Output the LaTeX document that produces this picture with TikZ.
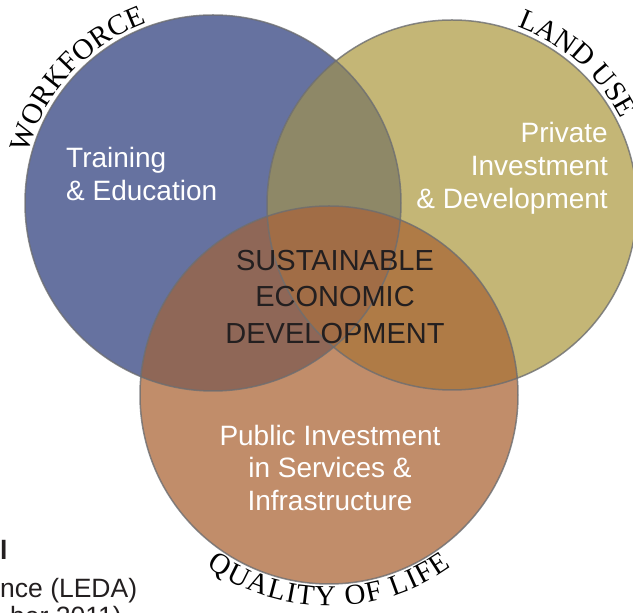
\documentclass[tikz,border=0pt]{standalone}
\usepackage{fontspec}
\setmainfont{Liberation Sans}
\newfontfamily\rimserif{Liberation Serif}
\usepackage{tikz}
\usepackage{xcolor}
\usetikzlibrary{decorations.text}
\definecolor{bluefill}{HTML}{6672A0}
\definecolor{goldfill}{HTML}{C4B676}
\definecolor{orangefill}{HTML}{C18D6A}
\definecolor{bluegold}{HTML}{8E8867}
\definecolor{blueorange}{HTML}{8F6757}
\definecolor{goldorange}{HTML}{AF7B46}
\definecolor{allthree}{HTML}{A16D46}
\definecolor{rimgrey}{HTML}{6D6E71}
\definecolor{coretext}{HTML}{231F20}
\newcommand\rimfont{\rimserif\fontsize{29}{30}\selectfont}

\begin{document}
\begin{tikzpicture}[x=1pt, y=1pt,
  label/.style={text=white, inner sep=0pt, font=\fontsize{28}{33}\selectfont},
  core/.style={text=coretext, inner sep=0pt, align=center, font=\fontsize{29}{36.5}\selectfont},
  note/.style={text=coretext, inner sep=0pt, font=\fontsize{26.5}{30}\selectfont},
  rim/.style={draw=rimgrey, line width=1.5pt, draw opacity=0.8},
  arcword/.style={decorate, decoration={text along path, text align={fit to path}, text={#1}}},
  arcleft/.style={decorate, decoration={text along path, text align=left, text={#1}}}]
  \useasboundingbox (0,0) rectangle (633,613);
  \clip (0,0) rectangle (633,613);
  \coordinate (workforce) at (213,410);
  \coordinate (landuse) at (452,408);
  \coordinate (quality) at (329,218);
  \fill[bluefill] (workforce) circle (188);
  \fill[goldfill] (landuse) circle (185);
  \fill[orangefill] (quality) circle (189);
  \begin{scope}
    \clip (workforce) circle (188);
    \fill[bluegold] (landuse) circle (185);
    \fill[blueorange] (quality) circle (189);
  \end{scope}
  \begin{scope}
    \clip (landuse) circle (185);
    \fill[goldorange] (quality) circle (189);
  \end{scope}
  \begin{scope}
    \clip (workforce) circle (188);
    \clip (landuse) circle (185);
    \fill[allthree] (quality) circle (189);
  \end{scope}
  \draw[rim] (workforce) circle (188);
  \draw[rim] (landuse) circle (185);
  \draw[rim] (quality) circle (189);
  \path[arcword={|\rimfont|WORKFORCE}] (workforce) ++(165:192) arc (165:110:192);
  \path[arcleft={|\rimfont|LAND USE}] (landuse) ++(70:190) arc (70:0:190);
  \path[arcword={|\rimfont|QUALITY OF LIFE}] (quality) ++(234.5:211) arc (234.5:305.5:211);
  \node[label, align=left, anchor=north west] (training) at (66,466) {Training\\\& Education};
  \node[label, align=right, anchor=north east] (private) at (608,491) {Private\\Investment\\\& Development};
  \node[core, anchor=north] (sustain) at (335,363) {SUSTAINABLE\\ECONOMIC\\DEVELOPMENT};
  \node[label, align=center, anchor=north, font=\fontsize{28}{32.5}\selectfont] (public) at (330,188) {Public Investment\\in Services \&\\Infrastructure};
  \node[note, font=\bfseries\fontsize{26.5}{30}\selectfont, anchor=base west] (notehead) at (0,53) {l};
  \node[note, anchor=base west] (notesrc) at (0,15) {nce (LEDA)};
  \node[note, anchor=base west] (notedate) at (10,-13) {ber 2011)};
\end{tikzpicture}
\end{document}
